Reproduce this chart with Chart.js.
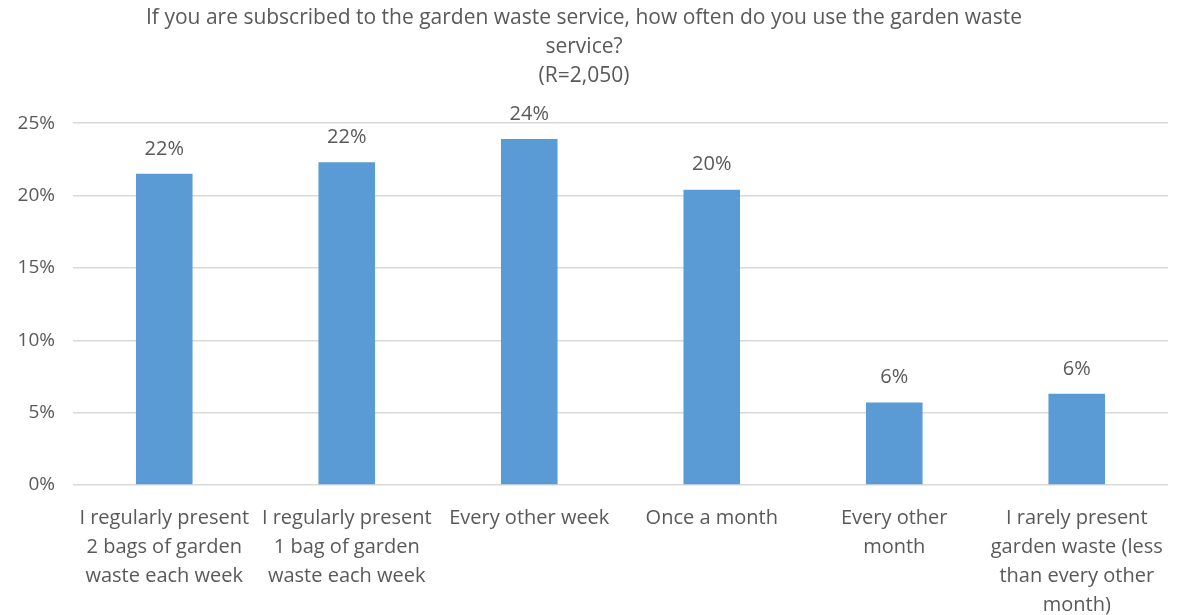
<!DOCTYPE html>
<html>
<head>
<meta charset="utf-8">
<script src="https://cdn.jsdelivr.net/npm/chart.js@4/dist/chart.umd.min.js"></script>
<style>
  html, body { margin: 0; padding: 0; background: #fff; }
  #wrap { width: 1178px; height: 615px; }
</style>
</head>
<body>
<div id="wrap"><canvas id="chart"></canvas></div>
<script>
'use strict';

// Survey answers (multi-line axis labels)
const categories = [
    ['I regularly present', '2 bags of garden', 'waste each week'],
    ['I regularly present', '1 bag of garden', 'waste each week'],
    ['Every other week'],
    ['Once a month'],
    ['Every other', 'month'],
    ['I rarely present', 'garden waste (less', 'than every other', 'month)']
];

// Share of respondents, percent
const shares = [21.5, 22.3, 23.9, 20.4, 5.7, 6.3];

const titleLines = [
    'If you are subscribed to the garden waste service, how often do you use the garden waste',
    'service?',
    '(R=2,050)'
];

const yMax = 25;
const yStep = 5;

const textColor = '#595959';
const barColor = '#5B9BD5';
const gridColor = '#D9D9D9';
const fontFamily = '"Open Sans", "Noto Sans", sans-serif';

// percentage labels above each bar
const barLabels = {
    id: 'barLabels',
    afterDatasetsDraw(chart) {
        const ctx = chart.ctx;
        const meta = chart.getDatasetMeta(0);
        ctx.save();
        ctx.font = '20px ' + fontFamily;
        ctx.fillStyle = textColor;
        ctx.textAlign = 'center';
        ctx.textBaseline = 'middle';
        meta.data.forEach((bar, i) => {
            ctx.fillText(Math.round(shares[i]) + '%', bar.x, bar.y - 25);
        });
        ctx.restore();
    }
};

new Chart(document.getElementById('chart'), {
    type: 'bar',
    data: {
        labels: categories,
        datasets: [{
            data: shares,
            backgroundColor: barColor,
            categoryPercentage: 1,
            barPercentage: 0.31
        }]
    },
    options: {
        responsive: true,
        maintainAspectRatio: false,
        animation: false,
        layout: { padding: { left: 0, right: 10, top: 0, bottom: 0 } },
        plugins: {
            legend: { display: false },
            tooltip: { enabled: false },
            title: {
                display: true,
                text: titleLines,
                color: textColor,
                font: { family: fontFamily, size: 21, weight: 'normal', lineHeight: 1.4 },
                padding: { top: 3, bottom: 32 }
            }
        },
        scales: {
            x: {
                grid: { display: false },
                border: { display: false },
                afterFit: scale => { scale.height = 130; },
                ticks: {
                    color: textColor,
                    font: { family: fontFamily, size: 20, lineHeight: 1.45 },
                    padding: 11,
                    maxRotation: 0,
                    autoSkip: false
                }
            },
            y: {
                min: 0,
                max: yMax,
                grid: { color: gridColor, lineWidth: 1.5, drawTicks: false },
                border: { display: false },
                afterFit: scale => { scale.width = 73; },
                ticks: {
                    stepSize: yStep,
                    color: textColor,
                    font: { family: fontFamily, size: 19 },
                    padding: 18,
                    callback: v => v + '%'
                }
            }
        }
    },
    plugins: [barLabels]
});
</script>
</body>
</html>
